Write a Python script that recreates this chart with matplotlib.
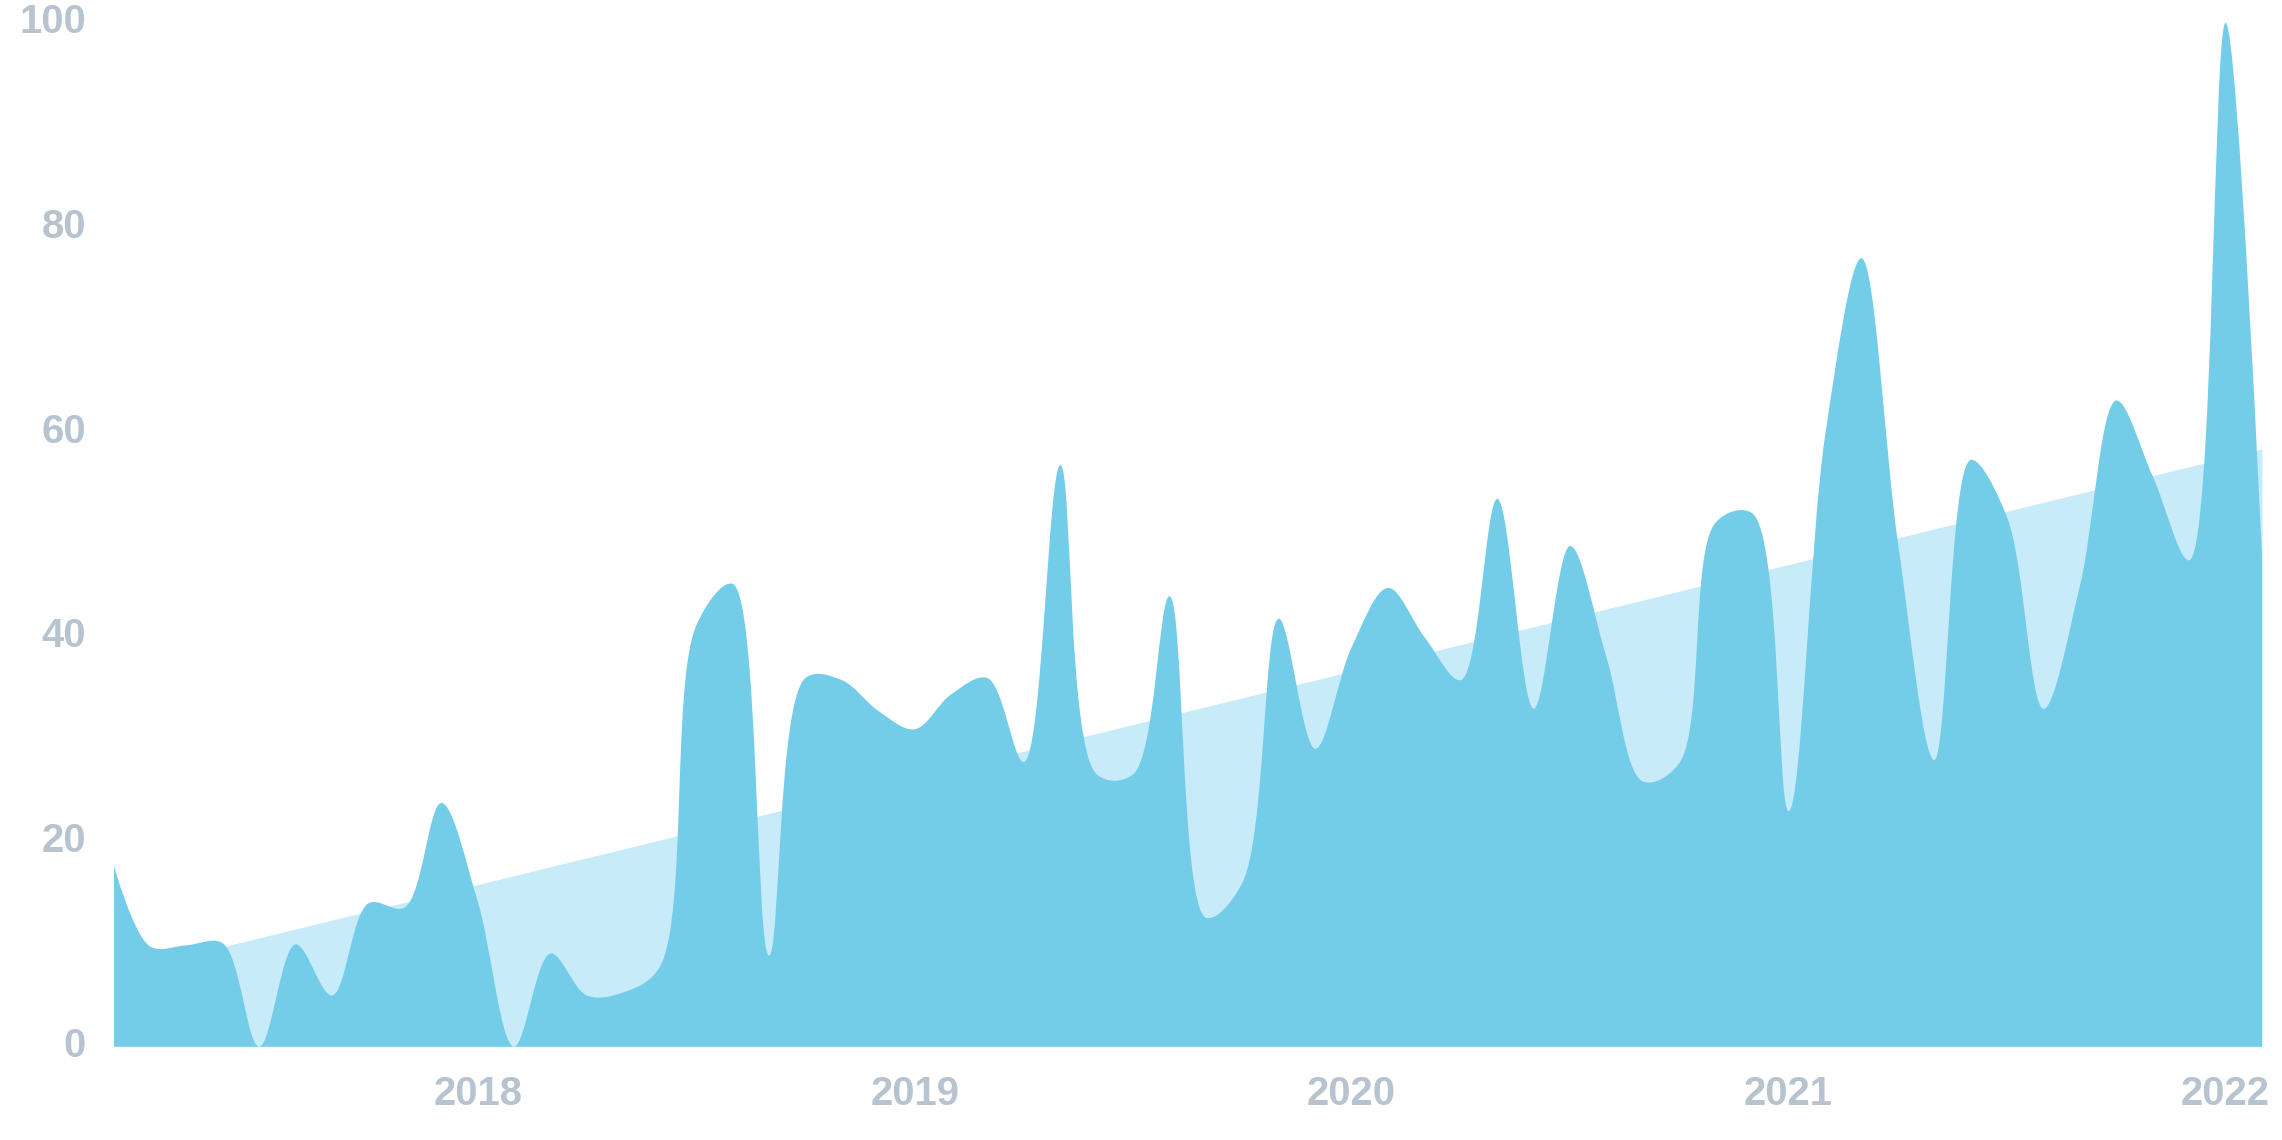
import numpy as np
import pandas as pd
import matplotlib
matplotlib.use("Agg")
import matplotlib.pyplot as plt
from matplotlib.path import Path
from matplotlib.patches import PathPatch
from matplotlib.transforms import ScaledTranslation

# ---------------- data ----------------
months = pd.date_range("2017-03-01", "2022-02-01", freq="MS")  # 60 monthly points
values = [17.8, 9.8, 9.9, 10.1, 0.0, 10.0, 5.0, 14.0, 13.6, 23.8,
          14.2, 0.0, 9.1, 5.0, 5.3, 7.8, 41.1, 45.2, 8.9, 36.0,
          35.8, 32.8, 31.0, 34.4, 36.0, 27.8, 56.8, 26.6, 26.6, 44.0,
          12.6, 16.0, 41.8, 29.1, 39.0, 44.8, 40.0, 35.8, 53.5, 33.0,
          48.9, 38.0, 25.9, 27.7, 51.2, 52.1, 23.0, 59.6, 77.0, 49.3,
          28.0, 57.3, 51.7, 33.0, 45.0, 63.1, 55.7, 47.5, 100.0, 47.9]
y_ticks = [0, 20, 40, 60, 80, 100]

MAIN = "#73cde9"
TREND = "#c7ebf8"
LABEL = "#b7c3cf"

# ---------------- figure ----------------
W, H, DPI = 2282, 1140, 100
fig = plt.figure(figsize=(W / DPI, H / DPI), dpi=DPI)
x0_px, x1_px = 113.5, 2262.0
y0_px, y1_px = 1046.7, 22.7
ax = fig.add_axes([x0_px / W, (H - y0_px) / H, (x1_px - x0_px) / W, (y0_px - y1_px) / H])

x = np.arange(len(months), dtype=float)
v = np.asarray(values, dtype=float)
ax.set_xlim(x[0], x[-1])
ax.set_ylim(0, 100)

# pixel scale (for centripetal Catmull-Rom like d3.curveCatmullRom)
sx = (x1_px - x0_px) / (x[-1] - x[0])
sy = (y0_px - y1_px) / 100.0


def catmull_rom(xs, ys, alpha=0.5):
    P = np.column_stack([xs * sx, ys * sy])
    n = len(P)
    verts = [P[0]]
    codes = [Path.MOVETO]
    for i in range(n - 1):
        p1, p2 = P[i], P[i + 1]
        d12 = np.hypot(*(p2 - p1))
        l12_a, l12_2a = d12 ** alpha, d12 ** (2 * alpha)
        c1 = p1.copy()
        if i > 0:
            p0 = P[i - 1]
            d01 = np.hypot(*(p1 - p0))
            l01_a, l01_2a = d01 ** alpha, d01 ** (2 * alpha)
            if l01_a > 1e-12:
                a = 2 * l01_2a + 3 * l01_a * l12_a + l12_2a
                nn = 3 * l01_a * (l01_a + l12_a)
                c1 = (p1 * a - p0 * l12_2a + p2 * l01_2a) / nn
        c2 = p2.copy()
        if i + 2 < n:
            p3 = P[i + 2]
            d23 = np.hypot(*(p3 - p2))
            l23_a, l23_2a = d23 ** alpha, d23 ** (2 * alpha)
            if l23_a > 1e-12:
                b = 2 * l23_2a + 3 * l23_a * l12_a + l12_2a
                m = 3 * l23_a * (l23_a + l12_a)
                c2 = (p2 * b + p1 * l23_2a - p3 * l12_2a) / m
        verts += [c1, c2, p2]
        codes += [Path.CURVE4] * 3
    verts = np.array(verts) / np.array([sx, sy])
    return verts, codes


# trend (linear regression) area
coef = np.polyfit(x, v, 1)
trend = np.polyval(coef, x)
ax.fill_between(x, 0, trend, color=TREND, lw=0, zorder=1)

# main smooth area
verts, codes = catmull_rom(x, v)
verts = np.vstack([verts, [[x[-1], 0], [x[0], 0], [x[0], v[0]]]])
codes = codes + [Path.LINETO, Path.LINETO, Path.CLOSEPOLY]
ax.add_patch(PathPatch(Path(verts, codes), facecolor=MAIN, edgecolor="none", lw=0, zorder=2))

# ---------------- axes styling ----------------
for s in ax.spines.values():
    s.set_visible(False)

font = dict(family="Liberation Sans", weight="bold", size=28.8)

jan_idx = [i for i, d in enumerate(months) if d.month == 1]
ax.set_xticks(jan_idx)
ax.set_xticklabels([str(months[i].year) for i in jan_idx], color=LABEL, **font)
ax.tick_params(axis="x", length=0, pad=58.3 * 72 / DPI)
for lbl in ax.get_xticklabels():
    lbl.set_verticalalignment("baseline")

ax.set_yticks(y_ticks)
ax.set_yticklabels([str(t) for t in y_ticks], color=LABEL, **font)
ax.tick_params(axis="y", length=0, pad=27.5 * 72 / DPI)
for lbl in ax.get_yticklabels():
    lbl.set_verticalalignment("baseline")
    lbl.set_transform(lbl.get_transform() + ScaledTranslation(0, -10.3 / DPI, fig.dpi_scale_trans))

fig.savefig("out.png", dpi=DPI, facecolor="white")
